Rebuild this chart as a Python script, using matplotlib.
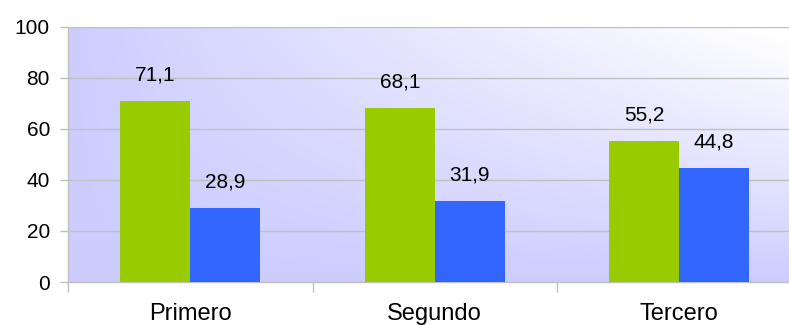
import numpy as np
import matplotlib
matplotlib.use("Agg")
import matplotlib.pyplot as plt
from matplotlib.colors import to_rgb

categories = ["Primero", "Segundo", "Tercero"]
serie_a = [71.1, 68.1, 55.2]
serie_b = [28.9, 31.9, 44.8]
y_ticks = [0, 20, 40, 60, 80, 100]

green = "#99CC00"
blue = "#3366FF"
grid_c = "#C0C0C0"

plt.rcParams["font.family"] = ["Liberation Sans", "DejaVu Sans"]

fig = plt.figure(figsize=(7.89, 3.25), dpi=100)
# plot area runs slightly past the right edge of the canvas
ax = fig.add_axes([68 / 789, 1 - 282 / 325, 733.5 / 789, (282 - 27) / 325])

# diagonal gradient background: lavender bottom-left to white top-right
nx, ny = 300, 120
xs = np.linspace(0, 1, nx)
ys = np.linspace(0, 1, ny)
X, Y = np.meshgrid(xs, ys)
t = np.clip((X * Y) ** 0.9 * 1.05, 0, 1)
c0 = np.array(to_rgb("#CCCCFF"))
c1 = np.array([1.0, 1.0, 1.0])
img = c0[None, None, :] * (1 - t[..., None]) + c1[None, None, :] * t[..., None]
ax.imshow(img, extent=[0, 1, 0, 1], transform=ax.transAxes, origin="lower",
          aspect="auto", zorder=0, interpolation="bilinear")

x = np.arange(len(categories))
w = 0.286
bars_a = ax.bar(x - w / 2, serie_a, width=w, color=green, zorder=3)
bars_b = ax.bar(x + w / 2, serie_b, width=w, color=blue, zorder=3)

for bars, vals in ((bars_a, serie_a), (bars_b, serie_b)):
    for b, v in zip(bars, vals):
        ax.annotate(f"{v:.1f}".replace(".", ","),
                    (b.get_x() + b.get_width() / 2, v),
                    xytext=(0, 26), textcoords="offset pixels",
                    ha="center", va="center", fontsize=15, color="black", zorder=4)

ax.set_xlim(-0.5, 2.5)
ax.set_ylim(0, 100)
ax.set_yticks(y_ticks)
ax.set_yticklabels([str(v) for v in y_ticks], fontsize=15, color="black")
ax.yaxis.grid(True, color=grid_c, linewidth=1, zorder=1)
ax.set_axisbelow(False)
for gl in ax.get_ygridlines():
    gl.set_zorder(1)

ax.set_xticks([-0.5, 0.5, 1.5, 2.5])
ax.set_xticklabels([])
ax.set_xticks(x, minor=True)
ax.set_xticklabels(categories, minor=True, fontsize=17, color="black")
ax.tick_params(axis="x", which="minor", length=0, pad=15)
ax.tick_params(axis="x", which="major", length=7, color=grid_c, width=1)
ax.tick_params(axis="y", length=6, color=grid_c, width=1, pad=7)

for s in ("top", "right"):
    ax.spines[s].set_visible(False)
for s in ("left", "bottom"):
    ax.spines[s].set_color(grid_c)
    ax.spines[s].set_linewidth(1)
    ax.spines[s].set_zorder(2)

fig.savefig("out.png", dpi=100)
